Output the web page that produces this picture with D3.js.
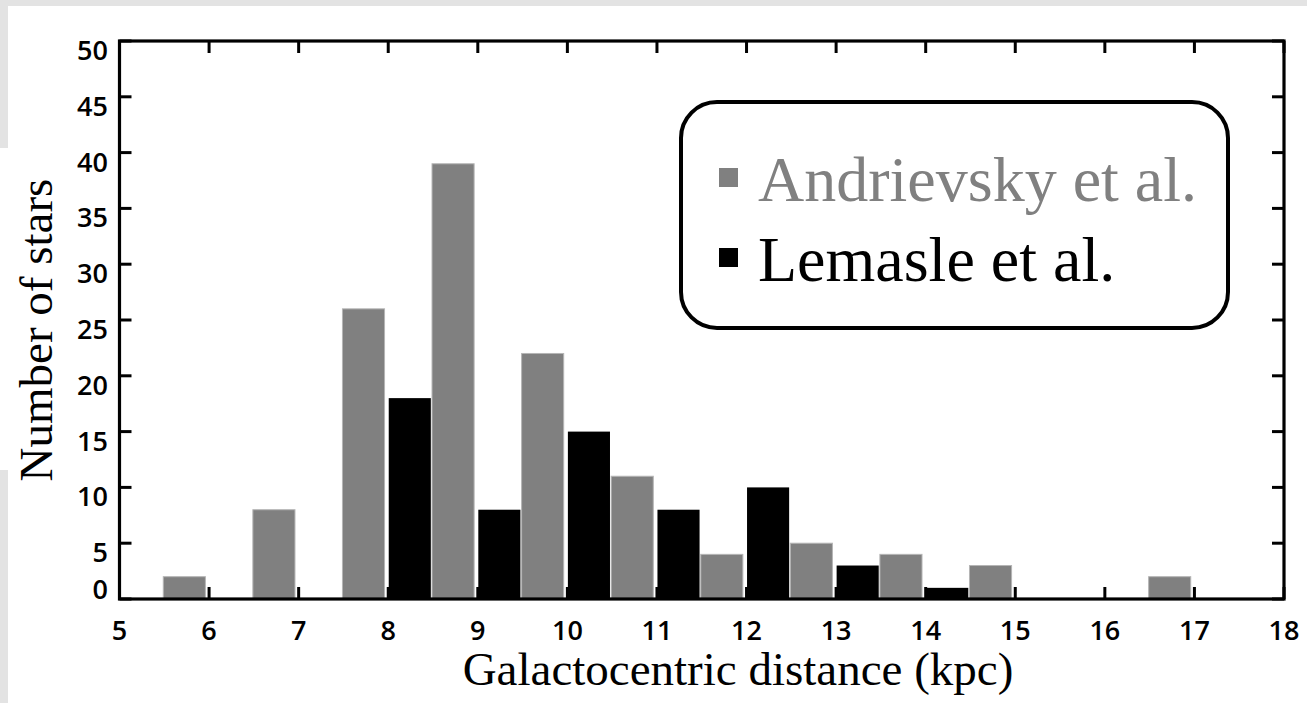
<!DOCTYPE html>
<html><head><meta charset="utf-8">
<script src="https://cdn.jsdelivr.net/npm/d3@7"></script>
<style>html,body{margin:0;padding:0;background:#e3e3e3;overflow:hidden}svg{display:block}</style>
</head><body>
<svg id="c" width="1307" height="703"></svg>
<script>
// ---- data ----
const andrievskyBins = [5.5, 6.5, 7.5, 8.5, 9.5, 10.5, 11.5, 12.5, 13.5, 14.5, 16.5];
const andrievskyCounts = [2, 8, 26, 39, 22, 11, 4, 5, 4, 3, 2];
const lemasleBins = [8, 9, 10, 11, 12, 13, 14];
const lemasleCounts = [18, 8, 15, 8, 10, 3, 1];
const xTickValues = [5, 6, 7, 8, 9, 10, 11, 12, 13, 14, 15, 16, 17, 18];
const yTickValues = [0, 5, 10, 15, 20, 25, 30, 35, 40, 45, 50];
const seriesNames = ["Andrievsky et al.", "Lemasle et al."];
const seriesColors = ["#808080", "#000000"];
const xTitle = "Galactocentric distance (kpc)";
const yTitle = "Number of stars";

(function () {
// ---- layout ----
const svg = d3.select("#c");
const W = 1307, H = 703;
const pL = 119.5, pR = 1284, pT = 41, pB = 599;
const x = d3.scaleLinear().domain([5, 18]).range([pL, pR]);
const y = d3.scaleLinear().domain([0, 50]).range([pB, pT]);
const binW = 0.5;
const barFrac = 0.94;

// background panels
svg.append("rect").attr("width", W).attr("height", H).attr("fill", "#e3e3e3");
svg.append("rect").attr("x", 8).attr("y", 6).attr("width", W - 8).attr("height", H - 6).attr("fill", "#fff");
svg.append("rect").attr("x", 0).attr("y", 148).attr("width", 9).attr("height", 322).attr("fill", "#fff");

const tickLen = 12;
const gT = svg.append("g").attr("stroke", "#000").attr("stroke-width", 3);
xTickValues.forEach(v => {
  gT.append("line").attr("x1", x(v)).attr("x2", x(v)).attr("y1", pB).attr("y2", pB - tickLen);
  gT.append("line").attr("x1", x(v)).attr("x2", x(v)).attr("y1", pT).attr("y2", pT + tickLen);
});
yTickValues.forEach(v => {
  gT.append("line").attr("x1", pL).attr("x2", pL + tickLen).attr("y1", y(v)).attr("y2", y(v));
  gT.append("line").attr("x1", pR).attr("x2", pR - tickLen).attr("y1", y(v)).attr("y2", y(v));
});

// bars
const bars = svg.append("g");
bars.selectAll("rect.a").data(andrievskyBins.map((b, i) => ({b, c: andrievskyCounts[i]})))
  .join("rect").attr("class", "a")
  .attr("x", d => x(d.b) - 1).attr("width", d => x(d.b + binW * barFrac) - x(d.b))
  .attr("y", d => y(d.c)).attr("height", d => y(0) - y(d.c))
  .attr("fill", seriesColors[0]).attr("stroke", "#b5b5b5").attr("stroke-width", 1);
bars.selectAll("rect.l").data(lemasleBins.map((b, i) => ({b, c: lemasleCounts[i]})))
  .join("rect").attr("class", "l")
  .attr("x", d => x(d.b) + 0.5).attr("width", d => x(d.b + binW * barFrac) - x(d.b))
  .attr("y", d => y(d.c)).attr("height", d => y(0) - y(d.c))
  .attr("fill", seriesColors[1]);

// frame
svg.append("rect").attr("x", pL).attr("y", pT).attr("width", pR - pL).attr("height", pB - pT)
  .attr("fill", "none").attr("stroke", "#000").attr("stroke-width", 3.2);

// tick labels
const tickFont = "'Open Sans', 'DejaVu Sans', sans-serif";
svg.append("g").selectAll("text").data(xTickValues).join("text")
  .attr("x", d => x(d)).attr("y", 640).attr("text-anchor", "middle")
  .attr("font-family", tickFont).attr("font-size", 27).attr("font-weight", 600)
  .attr("fill", "#000").text(d => d);
svg.append("g").selectAll("text").data(yTickValues).join("text")
  .attr("x", 108).attr("y", d => d === 0 ? pB : y(d) + 19).attr("text-anchor", "end")
  .attr("font-family", tickFont).attr("font-size", 27).attr("font-weight", 600)
  .attr("fill", "#000").text(d => d);

// axis titles
const serif = "'Liberation Serif', 'Times New Roman', serif";
svg.append("text").attr("x", 738).attr("y", 685).attr("text-anchor", "middle")
  .attr("font-family", serif).attr("font-size", 47).attr("fill", "#000").text(xTitle);
svg.append("text").attr("transform", "translate(52,330) rotate(-90)").attr("text-anchor", "middle")
  .attr("font-family", serif).attr("font-size", 47).attr("fill", "#000").text(yTitle);

// legend
const lg = svg.append("g");
lg.append("rect").attr("x", 681).attr("y", 102).attr("width", 547).attr("height", 226)
  .attr("rx", 36).attr("ry", 36).attr("fill", "#fff").attr("stroke", "#000").attr("stroke-width", 4);
const legY = [201, 281];
seriesNames.forEach((n, i) => {
  lg.append("rect").attr("x", 719).attr("y", legY[i] - 33).attr("width", 19).attr("height", 19)
    .attr("fill", seriesColors[i]);
  lg.append("text").attr("x", 758).attr("y", legY[i]).attr("font-family", serif)
    .attr("font-size", 64).attr("fill", seriesColors[i]).text(n);
});
})();
</script>
</body></html>
